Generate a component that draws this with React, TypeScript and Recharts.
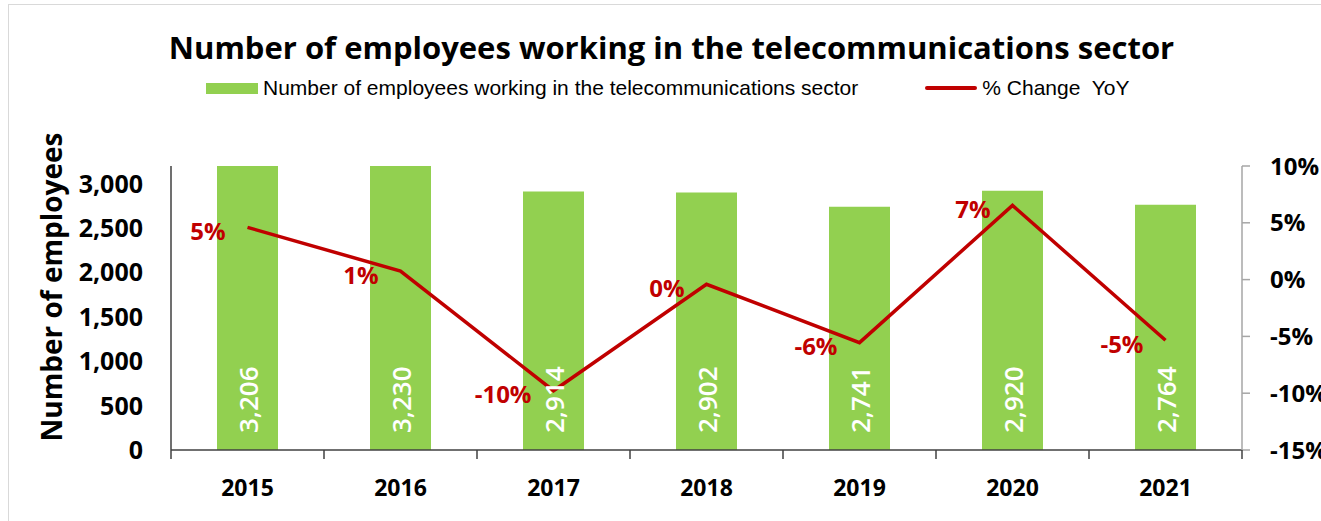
import React from 'react';
import { ComposedChart, Bar, Line, XAxis, YAxis, LabelList } from 'recharts';

const years = ['2015', '2016', '2017', '2018', '2019', '2020', '2021'];
const employees = [3206, 3230, 2914, 2902, 2741, 2920, 2764];
const changeYoY = [4.6, 0.75, -9.78, -0.41, -5.55, 6.53, -5.34]; // % change year on year
const leftTicks = [0, 500, 1000, 1500, 2000, 2500, 3000];
const rightTicks = [-15, -10, -5, 0, 5, 10];

const TITLE = 'Number of employees working in the telecommunications sector';
const BAR_NAME = 'Number of employees working in the telecommunications sector';
const LINE_NAME = '% Change  YoY';

const GREEN = '#92D050';
const RED = '#C00000';
const FONT = '"Open Sans", sans-serif';

const W = 1321;
const H = 521;
const PLOT_LEFT = 171;
const PLOT_RIGHT = 1242;
const PLOT_TOP = 166;
const PLOT_BOTTOM = 450;
const LEFT_AXIS_W = 60;
const RIGHT_AXIS_W = 70;
const X_AXIS_H = 50;

const data = years.map((year, i) => ({
  year,
  employees: employees[i],
  change: changeYoY[i],
}));

const band = (PLOT_RIGHT - PLOT_LEFT) / years.length;

function YearTick(props: any) {
  const { x, y, payload, index } = props;
  return (
    <g>
      <line x1={x - band / 2} x2={x - band / 2} y1={y} y2={y + 9} stroke="#404040" strokeWidth={1.5} />
      {index === years.length - 1 && (
        <line x1={x + band / 2} x2={x + band / 2} y1={y} y2={y + 9} stroke="#404040" strokeWidth={1.5} />
      )}
      <text
        x={x}
        y={y + 37}
        textAnchor="middle"
        dominantBaseline="central"
        fontFamily={FONT}
        fontWeight={700}
        fontSize={23}
        fill="#000"
      >
        {payload.value}
      </text>
    </g>
  );
}

function BarValue(props: any) {
  const { x, y, width, height, value } = props;
  const cx = x + width / 2;
  const by = y + height - 17;
  return (
    <text
      x={cx}
      y={by}
      transform={`rotate(-90 ${cx} ${by})`}
      textAnchor="start"
      dominantBaseline="central"
      fontFamily={FONT}
      fontWeight={600}
      fontSize={26}
      fill="#fff"
    >
      {Number(value).toLocaleString('en-US')}
    </text>
  );
}

function ChangeValue(props: any) {
  const { x, y, value } = props;
  return (
    <text
      x={x - 22}
      y={y + 3}
      textAnchor="end"
      dominantBaseline="central"
      fontFamily={FONT}
      fontWeight={700}
      fontSize={24}
      fill={RED}
    >
      {`${Math.round(value)}%`}
    </text>
  );
}

export default function App() {
  return (
    <div
      style={{
        position: 'absolute',
        left: 0,
        top: 0,
        width: W,
        height: H,
        background: '#fff',
        overflow: 'hidden',
      }}
    >
      <div
        style={{
          position: 'absolute',
          left: 8,
          top: 4,
          width: W,
          height: H,
          border: '1.5px solid #d9d9d9',
        }}
      />
      <div
        style={{
          position: 'absolute',
          left: 0,
          width: W,
          top: 26,
          textAlign: 'center',
          fontFamily: FONT,
          fontWeight: 700,
          fontSize: 31,
          lineHeight: '42px',
          paddingLeft: 22,
          boxSizing: 'border-box',
        }}
      >
        {TITLE}
      </div>

      {/* legend */}
      <div
        style={{
          position: 'absolute',
          top: 76,
          left: 206,
          display: 'flex',
          alignItems: 'center',
          fontFamily: '"Liberation Sans", Arial, sans-serif',
          fontSize: 21,
          lineHeight: '24px',
          whiteSpace: 'pre',
        }}
      >
        <span style={{ width: 52, height: 11, background: GREEN, marginRight: 5 }} />
        <span>{BAR_NAME}</span>
        <span style={{ width: 52, height: 4, background: RED, marginLeft: 67, marginRight: 5, borderRadius: 2 }} />
        <span>{LINE_NAME}</span>
      </div>

      <div
        style={{
          position: 'absolute',
          left: 51,
          top: 287,
          transform: 'translate(-50%, -50%) rotate(-90deg)',
          fontFamily: FONT,
          fontWeight: 700,
          fontSize: 28,
          whiteSpace: 'nowrap',
        }}
      >
        Number of employees
      </div>

      <ComposedChart
        width={W}
        height={H}
        data={data}
        margin={{
          top: PLOT_TOP,
          right: W - PLOT_RIGHT - RIGHT_AXIS_W,
          bottom: H - PLOT_BOTTOM - X_AXIS_H,
          left: PLOT_LEFT - LEFT_AXIS_W,
        }}
        style={{ position: 'absolute', left: 0, top: 0 }}
      >
        <XAxis
          dataKey="year"
          height={X_AXIS_H}
          axisLine={{ stroke: '#404040', strokeWidth: 1.5 }}
          tickLine={false}
          tickSize={0}
          tickMargin={0}
          tick={<YearTick />}
          interval={0}
        />
        <YAxis
          yAxisId="left"
          width={LEFT_AXIS_W}
          domain={[0, 3200]}
          allowDataOverflow
          ticks={leftTicks}
          tickFormatter={(v: number) => v.toLocaleString('en-US')}
          axisLine={{ stroke: '#404040', strokeWidth: 1.5 }}
          tickLine={false}
          tickSize={6}
          tickMargin={22}
          tick={{ fontFamily: FONT, fontWeight: 700, fontSize: 25, fill: '#000' }}
        />
        <YAxis
          yAxisId="right"
          orientation="right"
          width={RIGHT_AXIS_W}
          domain={[-15, 10]}
          ticks={rightTicks}
          tickFormatter={(v: number) => `${v}%`}
          axisLine={{ stroke: '#a6a6a6', strokeWidth: 1.5 }}
          tickLine={{ stroke: '#a6a6a6', strokeWidth: 1.5 }}
          tickSize={8}
          tickMargin={20}
          tick={{ fontFamily: FONT, fontWeight: 700, fontSize: 24, fill: '#000' }}
        />
        <Bar
          yAxisId="left"
          dataKey="employees"
          name={BAR_NAME}
          fill={GREEN}
          barSize={61}
          isAnimationActive={false}
        >
          <LabelList dataKey="employees" content={<BarValue />} />
        </Bar>
        <Line
          yAxisId="right"
          dataKey="change"
          name={LINE_NAME}
          stroke={RED}
          strokeWidth={3.5}
          dot={false}
          isAnimationActive={false}
        >
          <LabelList dataKey="change" content={<ChangeValue />} />
        </Line>
      </ComposedChart>
    </div>
  );
}
